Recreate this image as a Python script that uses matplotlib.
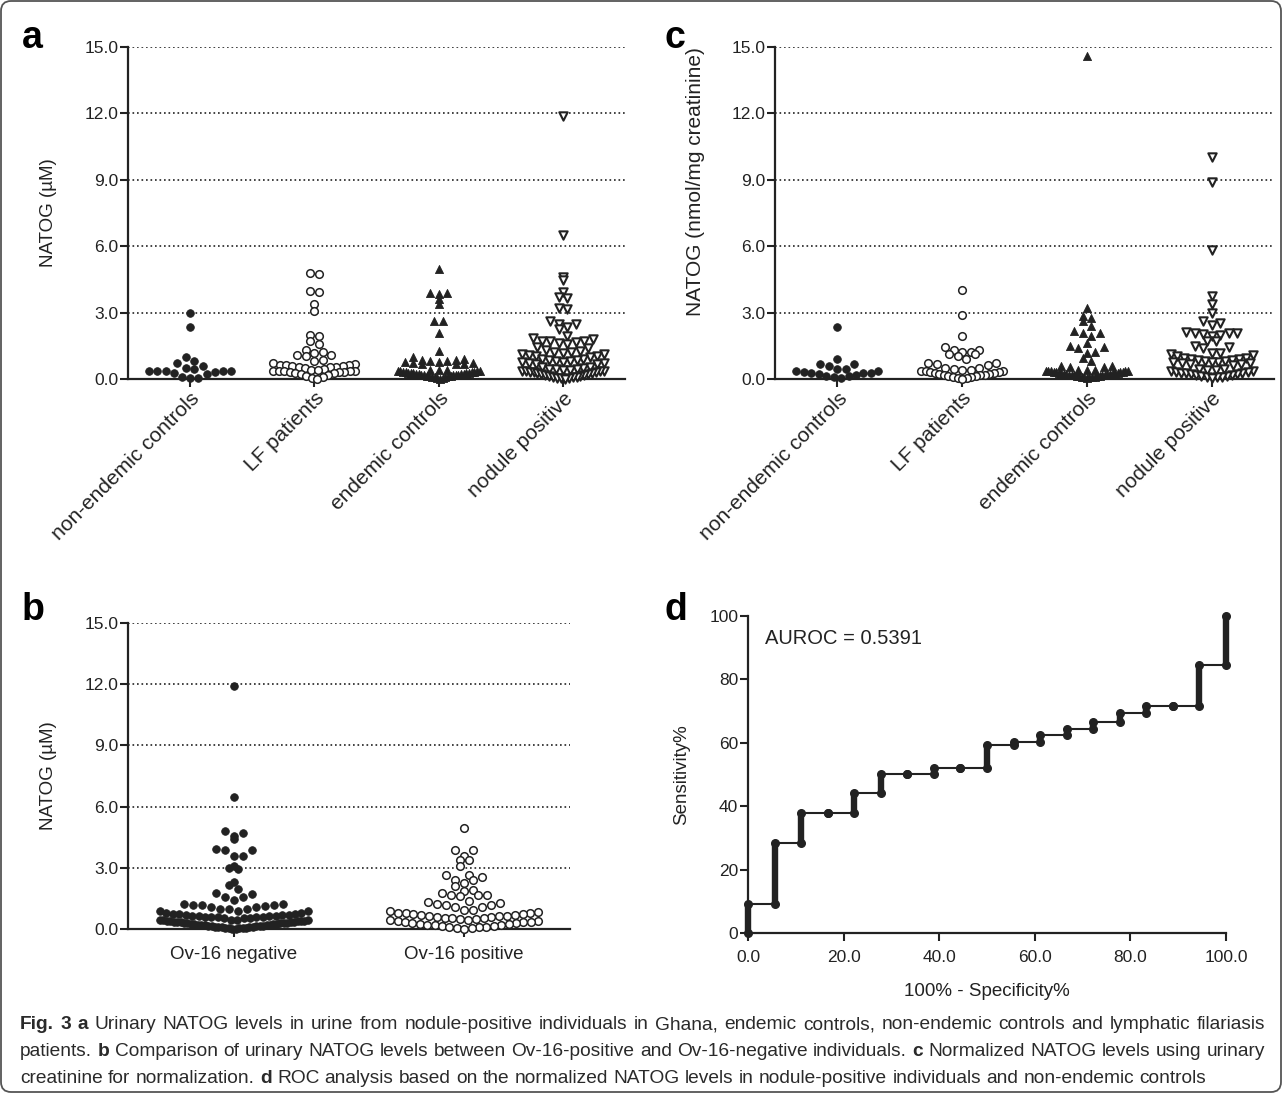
import numpy as np
import matplotlib
matplotlib.use('Agg')
import matplotlib.pyplot as plt
from matplotlib.patches import FancyBboxPatch

plt.rcParams['font.family'] = ['Liberation Sans', 'DejaVu Sans']

W, H = 1287, 1098
INK = '#222222'

# ---- panel a: urinary NATOG (uM) ----
groups_a = ['non-endemic controls', 'LF patients', 'endemic controls', 'nodule positive']
a_nonendemic = [2.97, 2.34, 0.98, 0.83, 0.71, 0.60, 0.50, 0.47, 0.38, 0.37, 0.36,
                0.35, 0.34, 0.32, 0.26, 0.22, 0.08, 0.05, 0.03]
a_lf = [4.80, 4.75, 3.97, 3.93, 3.40, 3.05, 2.00, 1.95, 1.73, 1.57, 1.33, 1.20, 1.18,
        1.10, 1.08, 1.03, 0.86, 0.80, 0.72, 0.68, 0.65, 0.63, 0.62, 0.60, 0.58, 0.56,
        0.55, 0.52, 0.50, 0.45, 0.42, 0.40, 0.38, 0.37, 0.36, 0.35, 0.34, 0.33, 0.32,
        0.30, 0.28, 0.25, 0.22, 0.18, 0.14, 0.10, 0.05, 0.02]
a_endemic = [4.96, 3.90, 3.88, 3.86, 3.62, 3.38, 2.63, 2.60, 2.10, 1.27, 1.01,
             0.90, 0.88, 0.85, 0.83, 0.80, 0.78, 0.76, 0.74, 0.72, 0.70, 0.68, 0.66,
             0.42, 0.40, 0.39, 0.38, 0.36, 0.35, 0.34, 0.33, 0.32, 0.31, 0.30, 0.29,
             0.28, 0.27, 0.26, 0.25, 0.24, 0.23, 0.22, 0.21, 0.20, 0.19, 0.18, 0.17,
             0.16, 0.15, 0.14, 0.13, 0.12, 0.11, 0.10, 0.08, 0.06, 0.04, 0.02]
a_nodule = [11.90, 6.49, 4.63, 4.48, 3.95, 3.72, 3.68, 3.22, 3.18, 2.60, 2.50, 2.47,
            2.37, 2.25, 1.95, 1.84, 1.79, 1.73, 1.73, 1.72, 1.69, 1.64, 1.58, 1.43,
            1.39, 1.30, 1.27, 1.24, 1.21, 1.18, 1.15, 1.12, 1.09, 1.06, 1.03, 1.00,
            0.92, 0.89, 0.86, 0.84, 0.82, 0.80, 0.78, 0.76, 0.74, 0.72, 0.70, 0.68,
            0.55, 0.52, 0.50, 0.47, 0.45, 0.43, 0.41, 0.40, 0.38, 0.37, 0.36, 0.35,
            0.33, 0.32, 0.30, 0.28, 0.25, 0.23, 0.21, 0.19, 0.17, 0.15, 0.13, 0.11,
            0.09, 0.07, 0.05, 0.04, 0.03, 0.02]

# ---- panel b: NATOG (uM) by Ov-16 serology ----
groups_b = ['Ov-16 negative', 'Ov-16 positive']
b_neg = [11.90, 6.47, 4.79, 4.71, 4.58, 4.41, 3.92, 3.86, 3.86, 3.59, 3.59, 3.10,
         2.99, 2.96, 2.29, 2.14, 1.96, 1.76, 1.72, 1.57, 1.57, 1.44,
         1.23, 1.23, 1.16, 1.16, 1.16, 1.11, 1.06, 1.06, 1.00, 0.98, 0.98, 0.90,
         0.87, 0.87, 0.78, 0.77, 0.75, 0.74, 0.72, 0.71, 0.69, 0.68, 0.66, 0.65,
         0.64, 0.62, 0.61, 0.60, 0.59, 0.58, 0.57, 0.56, 0.55, 0.54,
         0.46, 0.45, 0.44, 0.43, 0.42, 0.41, 0.40, 0.39, 0.38, 0.37, 0.36, 0.35,
         0.34, 0.33, 0.32, 0.31, 0.30, 0.29, 0.28, 0.27, 0.26, 0.25, 0.24, 0.23,
         0.22, 0.21, 0.20, 0.19, 0.18, 0.17, 0.16, 0.15, 0.14, 0.13, 0.12, 0.11,
         0.10, 0.09, 0.08, 0.07, 0.06, 0.05, 0.04, 0.03, 0.02, 0.01]
b_pos = [4.95, 3.89, 3.89, 3.56, 3.40, 3.40, 3.07, 2.66, 2.63, 2.55, 2.42, 2.42,
         2.25, 2.09, 1.93, 1.88, 1.76, 1.68, 1.68, 1.68, 1.60,
         1.36, 1.31, 1.27, 1.23, 1.19, 1.16, 1.08, 1.06, 0.95, 0.95,
         0.87, 0.84, 0.80, 0.78, 0.76, 0.74, 0.72, 0.70, 0.68, 0.66, 0.64, 0.62,
         0.60, 0.58, 0.56, 0.54, 0.52, 0.50, 0.48, 0.46,
         0.42, 0.40, 0.38, 0.36, 0.34, 0.32, 0.30, 0.28, 0.26, 0.24, 0.22, 0.20,
         0.18, 0.16, 0.14, 0.12, 0.10, 0.08, 0.06, 0.04, 0.02]

# ---- panel c: NATOG normalised to creatinine (nmol/mg) ----
c_nonendemic = [2.37, 0.90, 0.69, 0.68, 0.60, 0.44, 0.43, 0.36, 0.35, 0.30, 0.29,
                0.26, 0.25, 0.21, 0.20, 0.15, 0.14, 0.10, 0.06]
c_lf = [4.03, 2.87, 1.95, 1.43, 1.30, 1.30, 1.24, 1.21, 1.12, 1.12, 1.04,
        0.89, 0.71, 0.71, 0.68, 0.63, 0.48, 0.48,
        0.45, 0.42, 0.40, 0.38, 0.36, 0.34, 0.32, 0.30, 0.28, 0.26, 0.24, 0.22,
        0.20, 0.18, 0.16, 0.14, 0.12, 0.10, 0.08, 0.06, 0.04, 0.02]
c_endemic = [14.58, 3.20, 2.85, 2.77, 2.62, 2.41, 2.17, 2.10, 2.06, 1.94, 1.61,
             1.49, 1.43, 1.39, 1.24, 1.16, 0.94, 0.83, 0.59, 0.59, 0.56, 0.56,
             0.42, 0.40, 0.39, 0.38, 0.37, 0.36, 0.35, 0.34, 0.33, 0.32, 0.31,
             0.30, 0.29, 0.28, 0.27, 0.26, 0.25, 0.24, 0.23, 0.22, 0.21, 0.20,
             0.19, 0.18, 0.17, 0.16, 0.15, 0.14, 0.13, 0.12, 0.11, 0.10, 0.09,
             0.08, 0.07, 0.06]
c_nodule = [10.03, 8.88, 5.81, 3.73, 3.38, 3.00, 2.62, 2.55, 2.44, 2.11, 2.07,
            2.07, 2.07, 2.03, 2.00, 1.95, 1.72, 1.70, 1.49, 1.46, 1.39, 1.16,
            1.16, 1.13, 1.09, 1.04,
            0.95, 0.93, 0.91, 0.89, 0.87, 0.85, 0.83, 0.81, 0.79, 0.77, 0.75,
            0.73, 0.71, 0.69, 0.67, 0.65,
            0.45, 0.43, 0.41, 0.39, 0.37, 0.35, 0.33, 0.31, 0.29, 0.27, 0.25,
            0.23, 0.21, 0.19, 0.17, 0.15, 0.13, 0.11, 0.09, 0.07, 0.05]

# ---- panel d: ROC, nodule positive vs non-endemic controls ----
roc_fpr = [0.0, 5.56, 11.11, 16.67, 22.22, 27.78, 33.33, 38.89, 44.44, 50.0,
           55.56, 61.11, 66.67, 72.22, 77.78, 83.33, 88.89, 94.44, 100.0]
roc_sens = [9.2, 28.5, 37.8, 37.8, 44.1, 50.2, 50.2, 52.2, 52.2, 59.3,
            60.1, 62.4, 64.5, 66.5, 69.5, 71.6, 71.6, 84.7, 100.0]
auroc = 0.5391

fig = plt.figure(figsize=(W / 100, H / 100), dpi=100)


def px_axes(x0, y0, x1, y1):
    return fig.add_axes([x0 / W, 1 - y1 / H, (x1 - x0) / W, (y1 - y0) / H])


def style(ax):
    for s in ['top', 'right']:
        ax.spines[s].set_visible(False)
    for s in ['left', 'bottom']:
        ax.spines[s].set_linewidth(1.6)
        ax.spines[s].set_color(INK)
    ax.tick_params(length=5.5, width=1.5, color=INK, labelsize=12.5, pad=1.5,
                   labelcolor=INK)


def swarm_x(ax, xc, vals, d, half_max):
    # GraphPad-like scatter: values binned into rows one marker high, each row
    # spread sideways (lowest value in the middle), squeezed if too wide
    vals = np.asarray(vals, float)
    pts = ax.transData.transform(np.column_stack([np.full(len(vals), xc), vals]))
    base = ax.transData.transform((xc, 0.0))
    rows = np.floor((pts[:, 1] - base[1]) / d).astype(int)
    xs = np.full(len(vals), base[0])
    for r in np.unique(rows):
        idx = np.where(rows == r)[0]
        idx = idx[np.argsort(vals[idx], kind='stable')]
        n = len(idx)
        step = d if n < 2 or (n - 1) * d <= 2 * half_max else 2 * half_max / (n - 1)
        slots = []
        k = 0
        while len(slots) < n:
            if n % 2:
                slots += [0.0] if k == 0 else [k, -k]
            else:
                slots += [k + 0.5, -(k + 0.5)]
            k += 1
        for j, i in enumerate(idx):
            xs[i] = base[0] + slots[j] * step
    return ax.transData.inverted().transform(np.column_stack([xs, pts[:, 1]]))[:, 0]


MK = {
    'fdot': dict(marker='o', s=30, facecolor=INK, edgecolor=INK, linewidths=0.6),
    'odot': dict(marker='o', s=30, facecolor='white', edgecolor=INK, linewidths=1.1),
    'ftri': dict(marker='^', s=34, facecolor=INK, edgecolor=INK, linewidths=0.6),
    'otri': dict(marker='v', s=36, facecolor='white', edgecolor=INK, linewidths=1.5),
}


def dot_panel(ax, data, kinds, d, half_max, ylabel):
    ax.set_ylim(0, 15)
    style(ax)
    ax.set_yticks([0, 3, 6, 9, 12, 15])
    ax.set_yticklabels(['%.1f' % v for v in [0, 3, 6, 9, 12, 15]])
    for v in [3, 6, 9, 12, 15]:
        ax.axhline(v, color=INK, lw=1.2, ls=(0, (1, 1.7)), zorder=1)
    ax.set_xticks(range(len(data)))
    for i, (vals, k) in enumerate(zip(data, kinds)):
        xs = swarm_x(ax, i, vals, d, half_max)
        ax.scatter(xs, vals, zorder=3, clip_on=False, **MK[k])
    ax.set_ylabel(ylabel, fontsize=13.5, color=INK)


ax_a = px_axes(128, 47, 625, 379)
ax_a.set_xlim(-0.5, 3.5)
dot_panel(ax_a, [a_nonendemic, a_lf, a_endemic, a_nodule],
          ['fdot', 'odot', 'ftri', 'otri'], 8.5, 41, 'NATOG (µM)')
ax_a.yaxis.set_label_coords(-71 / 497, 0.5)
ax_a.set_xticklabels(groups_a, rotation=45, ha='right', rotation_mode='anchor',
                     fontsize=15)

ax_c = px_axes(775, 47, 1274, 379)
ax_c.set_xlim(-0.5, 3.5)
dot_panel(ax_c, [c_nonendemic, c_lf, c_endemic, c_nodule],
          ['fdot', 'odot', 'ftri', 'otri'], 8.5, 41, 'NATOG (nmol/mg creatinine)')
ax_c.yaxis.label.set_fontsize(15)
ax_c.yaxis.set_label_coords(-70 / 499, (379 - 182) / 332)
ax_c.set_xticklabels(groups_a, rotation=45, ha='right', rotation_mode='anchor',
                     fontsize=15)

ax_b = px_axes(128, 623, 570, 929)
ax_b.set_xlim(-0.46, 1.46)
dot_panel(ax_b, [b_neg, b_pos], ['fdot', 'odot'], 9.0, 74, 'NATOG (µM)')
ax_b.yaxis.set_label_coords(-71 / 442, 0.5)
ax_b.set_xticklabels(groups_b, fontsize=13.5)
ax_b.tick_params(axis='x', pad=7)

# ROC
ax_d = px_axes(748, 616, 1226, 933)
style(ax_d)
ax_d.set_xlim(0, 100)
ax_d.set_ylim(0, 100)
ax_d.set_xticks(range(0, 101, 20))
ax_d.set_xticklabels(['%.1f' % v for v in range(0, 101, 20)])
ax_d.set_yticks(range(0, 101, 20))
ax_d.tick_params(axis='x', pad=7)
lo = [0.0] + roc_sens[:-1]
ax_d.plot([0.0] + roc_fpr, [0.0] + roc_sens, drawstyle='steps-post', color=INK,
          lw=1.5, clip_on=False, zorder=2)
ax_d.vlines(roc_fpr, lo, roc_sens, color=INK, lw=4.6, capstyle='round',
            clip_on=False, zorder=3)
ax_d.scatter(roc_fpr + roc_fpr, lo + roc_sens, s=30, color=INK, zorder=4,
             clip_on=False)
ax_d.text(0.035, 0.93, 'AUROC = %.4f' % auroc, transform=ax_d.transAxes,
          fontsize=14.5, color=INK, va='center')
ax_d.set_xlabel('100% - Specificity%', fontsize=13.5, color=INK)
ax_d.xaxis.set_label_coords(0.5, -50 / 317)
ax_d.set_ylabel('Sensitivity%', fontsize=13.5, color=INK)
ax_d.yaxis.set_label_coords(-58 / 478, 0.5)

# panel letters
for lab, x, y in [('a', 22, 48), ('c', 664, 48), ('b', 22, 620), ('d', 664, 620)]:
    fig.text(x / W, 1 - y / H, lab, fontsize=27, weight='bold', color='black',
             va='baseline', ha='left')

# caption, justified like the journal layout
cap_lines = [
    [('Fig. 3', True), ('a', True),
     ('Urinary NATOG levels in urine from nodule-positive individuals in Ghana, '
      'endemic controls, non-endemic controls and lymphatic filariasis', False)],
    [('patients.', False), ('b', True),
     ('Comparison of urinary NATOG levels between Ov-16-positive and '
      'Ov-16-negative individuals.', False), ('c', True),
     ('Normalized NATOG levels using urinary', False)],
    [('creatinine for normalization.', False), ('d', True),
     ('ROC analysis based on the normalized NATOG levels in nodule-positive '
      'individuals and non-endemic controls', False)],
]
cap_family = ['Liberation Sans Narrow', 'Liberation Sans', 'DejaVu Sans']
rend = fig.canvas.get_renderer()


def words_of(line):
    out = []
    for seg, bold in line:
        for w in seg.split(' '):
            out.append((w, bold))
    return out


def word_w(w, bold, fs):
    t = fig.text(0, 0, w, fontsize=fs, family=cap_family,
                 weight='bold' if bold else 'normal')
    wd = t.get_window_extent(rend).width
    t.remove()
    return wd


fs0 = 10.0
w3 = sum(word_w(w, b, fs0) for w, b in words_of(cap_lines[2]))
sp0 = word_w('a a', False, fs0) - 2 * word_w('a', False, fs0)
w3 += sp0 * (len(words_of(cap_lines[2])) - 1)
cap_fs = fs0 * (1212 - 20) / w3
sp = sp0 * cap_fs / fs0
for li, (line, yb) in enumerate(zip(cap_lines, [1029, 1056, 1083])):
    wl = words_of(line)
    widths = [word_w(w, b, cap_fs) for w, b in wl]
    gap = sp if li == 2 else max(sp * 0.6, (1265 - 20 - sum(widths)) / (len(wl) - 1))
    x = 20.0
    for (w, b), wd in zip(wl, widths):
        fig.text(x / W, 1 - yb / H, w, fontsize=cap_fs, family=cap_family,
                 weight='bold' if b else 'normal', color='#2a2a2a', va='baseline')
        x += wd + gap

fig.patches.append(FancyBboxPatch((0.01, 0.06), 12.8, 10.91,
                                  boxstyle='round,pad=0,rounding_size=0.1',
                                  transform=fig.dpi_scale_trans, fill=False,
                                  edgecolor='#555555', lw=1.3))

fig.savefig('out.png', dpi=100)
